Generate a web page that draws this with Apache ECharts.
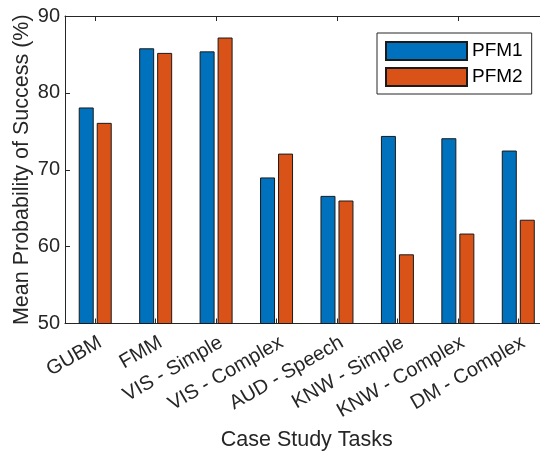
<!DOCTYPE html>
<html>
<head>
<meta charset="utf-8">
<script src="https://cdn.jsdelivr.net/npm/echarts@6/dist/echarts.min.js"></script>
<style>html,body{margin:0;padding:0;background:#fff}#c{width:540px;height:452px}</style>
</head>
<body>
<div id="c"></div>
<script>
var categories = ['GUBM', 'FMM', 'VIS - Simple', 'VIS - Complex', 'AUD - Speech', 'KNW - Simple', 'KNW - Complex', 'DM - Complex'];
var pfm1 = [78.1, 85.8, 85.4, 69.0, 66.6, 74.4, 74.1, 72.5];
var pfm2 = [76.1, 85.2, 87.2, 72.1, 66.0, 59.0, 61.7, 63.5];
var yTicks = [50, 60, 70, 80, 90];

var FONT = '"Liberation Sans", Arial, sans-serif';
var TXT = '#262626';
var chart = echarts.init(document.getElementById('c'), null, {renderer: 'canvas'});
chart.setOption({
  animation: false,
  textStyle: {fontFamily: FONT, color: TXT},
  grid: {left: 65, top: 16, right: -8.5, bottom: 128.5, containLabel: false, outerBoundsMode: 'none'},
  legend: {
    orient: 'vertical', left: 377, top: 33,
    padding: [8, 9, 7, 8],
    borderColor: TXT, borderWidth: 1, backgroundColor: '#fff',
    itemWidth: 81, itemHeight: 18, itemGap: 6,
    icon: 'rect',
    textStyle: {fontSize: 19, fontFamily: FONT, color: '#000'},
    data: ['PFM1', 'PFM2']
  },
  xAxis: [{
    type: 'category', data: categories, position: 'bottom',
    axisLine: {lineStyle: {color: TXT, width: 1}},
    axisTick: {show: true, inside: true, alignWithLabel: true, length: 5, lineStyle: {color: TXT}},
    axisLabel: {rotate: 30, fontSize: 20, color: TXT, fontFamily: FONT, margin: 9, interval: 0,
                verticalAlign: 'top'},
    name: 'Case Study Tasks', nameLocation: 'middle', nameGap: 106, nameMoveOverlap: false,
    nameTextStyle: {fontSize: 21.5, color: TXT, fontFamily: FONT}
  }, {
    type: 'category', data: categories, position: 'top',
    axisLine: {lineStyle: {color: TXT, width: 1}},
    axisTick: {show: true, inside: true, alignWithLabel: true, length: 5, lineStyle: {color: TXT}},
    axisLabel: {show: false}
  }],
  yAxis: {
    type: 'value', min: yTicks[0], max: yTicks[yTicks.length - 1], interval: 10,
    axisLine: {show: true, lineStyle: {color: TXT, width: 1}},
    axisTick: {show: true, inside: true, length: 5, lineStyle: {color: TXT}},
    splitLine: {show: false},
    axisLabel: {fontSize: 20, color: TXT, fontFamily: FONT, margin: 5},
    name: 'Mean Probability of Success (%)', nameLocation: 'middle', nameGap: 32, nameMoveOverlap: false,
    nameTextStyle: {fontSize: 21.5, color: TXT, fontFamily: FONT}
  },
  series: [{
    name: 'PFM1', type: 'bar', data: pfm1, barWidth: 15, barGap: '20%',
    itemStyle: {color: '#0072BD', borderColor: '#1a1a1a', borderWidth: 1}
  }, {
    name: 'PFM2', type: 'bar', data: pfm2, barWidth: 15, barGap: '20%',
    itemStyle: {color: '#D95319', borderColor: '#1a1a1a', borderWidth: 1}
  }]
});
</script>
</body>
</html>
